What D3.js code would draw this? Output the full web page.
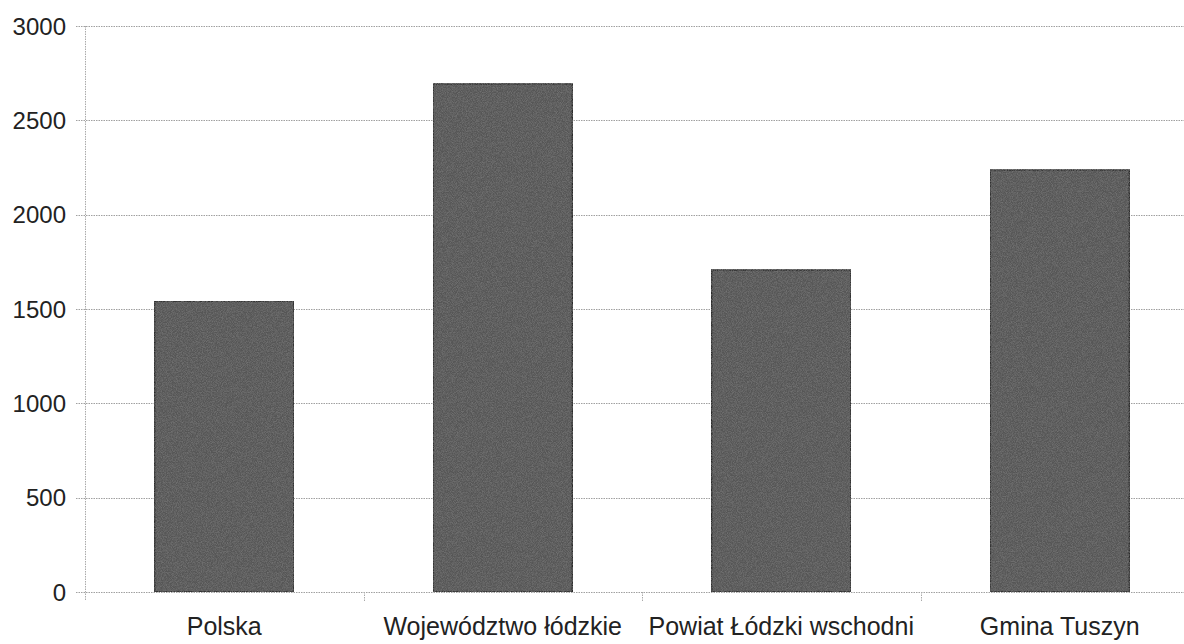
<!DOCTYPE html>
<html>
<head>
<meta charset="utf-8">
<script src="https://cdn.jsdelivr.net/npm/d3@7"></script>
<style>
  html, body { margin: 0; padding: 0; background: #fff; }
  svg { display: block; }
</style>
</head>
<body>
<div id="chart"></div>
<script>
const categories = ["Polska", "Województwo łódzkie", "Powiat Łódzki wschodni", "Gmina Tuszyn"];
const values = [1542, 2693, 1707, 2237];
const yTicks = [0, 500, 1000, 1500, 2000, 2500, 3000];

const width = 1184, height = 644;
const margin = { top: 26, right: -15, bottom: 52, left: 85 };

const svg = d3.select("#chart").append("svg")
    .attr("width", width)
    .attr("height", height)
    .style("font-family", "'Liberation Sans', Arial, sans-serif");

// grainy texture for the bars, like the scanned original
const defs = svg.append("defs");
const filter = defs.append("filter").attr("id", "grain")
    .attr("x", 0).attr("y", 0).attr("width", "100%").attr("height", "100%");
filter.append("feTurbulence")
    .attr("type", "fractalNoise")
    .attr("baseFrequency", 1.2)
    .attr("numOctaves", 1)
    .attr("seed", 3)
    .attr("result", "noise");
filter.append("feColorMatrix")
    .attr("in", "noise")
    .attr("type", "matrix")
    .attr("values", "0 0 0 0 0.2  0 0 0 0 0.2  0 0 0 0 0.2  0 0 0 -1.6 1.0")
    .attr("result", "dots");
filter.append("feComposite")
    .attr("in", "dots").attr("in2", "SourceGraphic")
    .attr("operator", "atop");

const x = d3.scaleBand()
    .domain(categories)
    .range([margin.left, width - margin.right])
    .paddingInner(0.5)
    .paddingOuter(0.25);

const y = d3.scaleLinear()
    .domain([0, 3000])
    .range([height - margin.bottom, margin.top]);

const y0 = y(0);

// horizontal gridlines
svg.append("g")
    .attr("stroke", "#a0a0a0")
    .attr("stroke-width", 1)
    .attr("stroke-dasharray", "1.5,1")
    .selectAll("line")
    .data(yTicks)
    .join("line")
    .attr("x1", margin.left - 9)
    .attr("x2", width)
    .attr("y1", d => Math.round(y(d)) + 0.5)
    .attr("y2", d => Math.round(y(d)) + 0.5);

// vertical axis line
svg.append("line")
    .attr("x1", margin.left + 0.5).attr("x2", margin.left + 0.5)
    .attr("y1", y(3000)).attr("y2", y0 + 9)
    .attr("stroke", "#aaa")
    .attr("stroke-dasharray", "1.5,1");

// category separator ticks
const step = x.step();
const bounds = d3.range(1, categories.length).map(i => margin.left + i * step);
svg.append("g")
    .attr("stroke", "#aaa")
    .attr("stroke-dasharray", "1.5,1")
    .selectAll("line")
    .data(bounds)
    .join("line")
    .attr("x1", d => Math.round(d) + 0.5)
    .attr("x2", d => Math.round(d) + 0.5)
    .attr("y1", y0)
    .attr("y2", y0 + 10);

// bars
svg.append("g")
    .selectAll("rect")
    .data(values)
    .join("rect")
    .attr("x", (d, i) => x(categories[i]))
    .attr("y", d => y(d))
    .attr("width", x.bandwidth())
    .attr("height", d => y0 - y(d))
    .attr("fill", "#575757")
    .attr("stroke", "#2a2a2a")
    .attr("stroke-width", 1.5)
    .attr("filter", "url(#grain)");

// y labels
svg.append("g")
    .selectAll("text")
    .data(yTicks)
    .join("text")
    .attr("x", 66)
    .attr("y", d => y(d))
    .attr("dy", "0.36em")
    .attr("text-anchor", "end")
    .attr("font-size", 24)
    .attr("fill", "#222")
    .text(d => d);

// x labels
svg.append("g")
    .selectAll("text")
    .data(categories)
    .join("text")
    .attr("x", d => x(d) + x.bandwidth() / 2)
    .attr("y", 635)
    .attr("text-anchor", "middle")
    .attr("font-size", 25)
    .attr("fill", "#222")
    .text(d => d);
</script>
</body>
</html>
